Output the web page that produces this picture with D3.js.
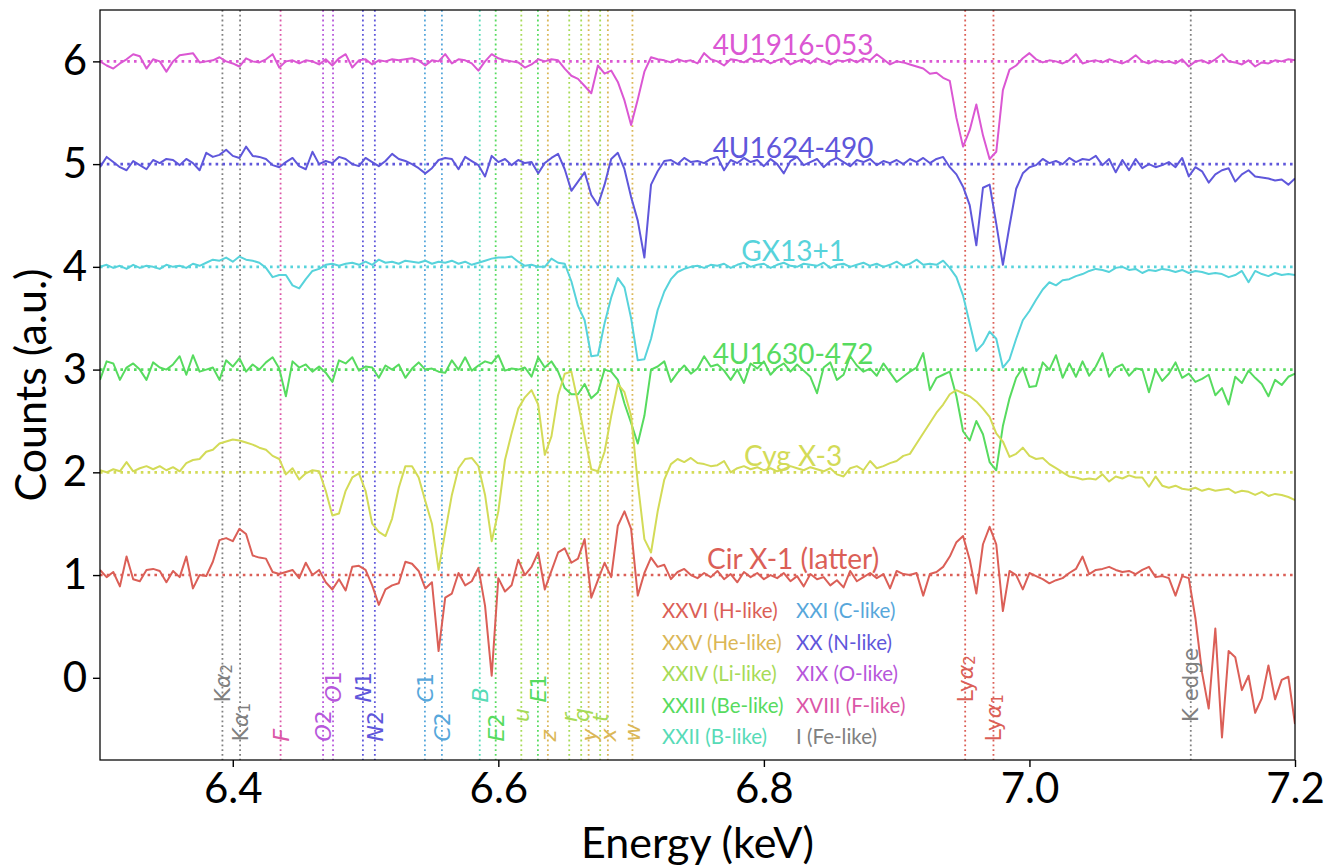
<!DOCTYPE html>
<html><head><meta charset="utf-8">
<script src="https://cdn.jsdelivr.net/npm/d3@7"></script>
<style>body{margin:0;background:#fff}</style>
</head><body>
<svg id="c" width="1333" height="868"></svg>
<script>
// ---------------- DATA ----------------
// energy grid (keV): 6.300 .. 7.200, 5 eV bins
const energyStart = 6.300, energyStep = 0.005, nBins = 181;
const energies = d3.range(nBins).map(i => +(energyStart + i * energyStep).toFixed(3));

const seriesNames = ["4U1916-053", "4U1624-490", "GX13+1", "4U1630-472", "Cyg X-3", "Cir X-1 (latter)"];
const seriesOffsets = [6, 5, 4, 3, 2, 1];

const counts4U1916 = [
6.00,5.96,5.93,5.98,6.02,6.07,6.05,5.93,6.02,6.00,
5.90,6.00,6.06,6.07,6.08,5.99,6.00,6.01,6.04,6.00,
5.98,5.95,6.03,6.00,5.99,6.02,6.07,5.94,6.00,6.01,
5.98,6.01,6.00,5.97,6.02,5.96,6.03,6.07,5.94,6.01,
6.02,5.97,6.01,6.00,6.02,6.01,6.02,6.03,6.01,5.96,
6.01,6.00,6.07,5.98,6.02,6.01,5.98,5.91,6.00,6.07,
6.03,6.01,6.00,5.99,5.94,5.97,6.02,6.00,6.02,6.01,
5.93,5.86,5.83,5.76,5.69,5.96,5.88,5.91,5.80,5.62,
5.38,5.63,5.90,6.04,6.02,6.01,5.99,6.02,6.00,6.01,
5.98,6.08,6.02,6.00,5.96,6.02,6.01,5.99,6.03,6.00,
6.02,5.98,6.01,6.03,5.97,6.00,6.02,5.98,6.03,6.00,
5.97,6.01,6.00,6.02,5.99,6.03,6.01,6.07,6.02,5.97,
6.00,5.99,5.97,5.95,5.93,5.88,5.89,5.84,5.81,5.45,
5.17,5.33,5.58,5.28,5.05,5.12,5.72,5.92,5.96,6.03,
6.08,6.02,5.99,6.01,6.00,5.98,6.01,6.07,5.98,6.00,
6.01,5.99,6.02,6.00,5.98,6.01,6.06,6.00,5.98,6.01,
5.99,6.00,5.98,6.02,5.95,6.00,6.01,5.98,6.02,6.07,
6.00,5.99,5.97,6.01,5.95,5.99,5.98,6.01,6.00,6.02,
6.01];

const counts4U1624 = [
4.97,5.07,5.02,4.97,4.94,5.03,4.99,4.95,5.04,5.01,
5.05,5.04,4.99,5.05,5.01,4.94,5.11,5.07,5.09,5.14,
5.08,5.06,5.17,5.08,5.07,5.05,4.99,4.97,5.02,5.06,
4.98,4.95,5.12,5.00,5.03,5.01,5.07,5.05,5.00,4.98,
5.06,5.02,4.98,5.03,5.10,5.05,5.03,5.00,4.96,4.91,
4.96,5.04,5.06,5.05,4.95,5.07,5.03,4.99,4.88,5.08,
5.02,5.05,4.99,5.04,5.01,5.02,4.91,5.01,5.06,5.10,
4.95,4.74,4.83,4.92,4.70,4.60,4.80,5.05,5.11,4.95,
4.68,4.45,4.09,4.80,4.93,5.03,5.04,5.00,5.06,5.02,
5.03,5.01,5.05,5.07,4.94,5.04,5.01,5.06,5.02,5.04,
4.98,5.05,5.00,4.91,5.03,5.07,4.99,5.02,5.05,4.97,
5.03,5.06,5.02,4.98,5.04,5.02,5.05,4.99,5.03,5.01,
5.04,5.00,5.05,5.02,5.06,5.01,5.05,5.07,4.97,4.90,
4.78,4.60,4.21,4.77,4.80,4.42,4.02,4.40,4.76,4.91,
4.97,4.99,5.05,5.01,5.03,5.00,5.06,5.02,5.05,5.04,
5.08,4.99,5.05,4.92,5.04,4.94,5.05,4.96,5.00,4.97,
4.99,5.02,4.97,5.06,4.88,4.97,4.93,4.82,4.90,4.94,
4.96,4.83,4.90,4.94,4.88,4.87,4.86,4.84,4.85,4.80,
4.86];

const countsGX13 = [
4.00,4.02,3.99,4.01,3.98,4.02,3.99,4.01,4.00,3.98,
4.02,4.00,4.01,3.99,4.03,4.01,4.04,4.07,4.06,4.09,
4.05,4.10,4.07,4.06,4.04,3.99,3.90,3.92,3.92,3.82,
3.79,3.88,3.96,3.98,4.02,4.03,4.01,4.03,4.04,4.02,
4.05,4.02,4.07,4.04,4.05,4.03,4.06,4.05,4.04,4.06,
4.03,4.05,4.04,4.06,4.03,4.05,4.02,4.04,4.06,4.08,
4.09,4.09,4.10,4.05,4.01,4.02,4.00,4.00,4.08,4.04,
4.03,3.86,3.62,3.48,3.13,3.14,3.45,3.70,3.89,3.80,
3.50,3.09,3.10,3.30,3.58,3.76,3.88,3.95,3.98,4.00,
4.01,3.99,4.02,4.01,4.03,3.99,4.02,4.04,4.00,4.02,
4.03,3.99,4.02,4.04,4.01,4.00,4.03,4.02,4.01,4.04,
3.99,4.02,4.03,4.00,4.02,4.04,4.01,4.03,4.00,4.02,
4.05,4.01,4.03,4.07,4.02,4.03,4.02,4.06,3.99,3.90,
3.72,3.45,3.18,3.25,3.37,3.30,3.02,3.10,3.30,3.48,
3.57,3.68,3.78,3.85,3.82,3.87,3.88,3.91,3.93,3.96,
3.98,3.97,3.95,3.99,4.00,3.97,3.98,3.94,3.97,3.96,
3.98,3.97,3.95,3.97,3.94,3.96,3.95,3.93,3.94,3.93,
3.90,3.92,3.96,3.85,3.96,3.93,3.91,3.94,3.92,3.93,
3.92];

const counts4U1630 = [
2.90,3.08,3.06,2.90,3.02,3.06,3.00,2.90,3.07,3.02,
3.00,3.05,3.13,2.95,3.14,2.98,3.00,3.02,2.90,3.09,
3.03,3.11,2.98,3.05,3.00,3.07,3.12,3.01,2.74,3.08,
3.02,3.05,2.98,3.03,2.97,2.88,3.09,3.06,3.12,2.99,
3.03,3.02,2.92,3.04,3.00,3.05,2.92,3.01,3.07,3.00,
3.01,2.98,2.97,3.09,3.00,3.12,2.99,3.04,3.08,3.06,
3.14,2.99,3.01,3.00,3.02,2.93,3.12,3.02,3.08,2.98,
2.82,2.76,2.76,2.86,2.72,2.78,3.00,2.98,2.90,2.67,
2.48,2.28,2.55,3.00,3.03,3.08,2.88,2.97,3.04,2.96,
3.01,3.13,3.03,3.05,2.99,2.90,3.00,2.87,3.06,3.01,
3.08,2.95,3.02,3.06,2.98,3.05,2.99,2.93,2.77,3.02,
3.07,2.90,2.95,3.13,3.04,2.98,3.01,2.94,3.06,2.97,
2.88,2.93,2.98,3.02,3.16,2.80,2.92,2.95,2.98,2.74,
2.40,2.31,2.50,2.37,2.10,2.02,2.45,2.72,2.92,3.02,
2.83,2.84,3.07,3.00,3.14,2.92,3.06,2.93,3.08,2.94,
3.03,3.16,2.93,3.02,3.05,2.94,3.01,3.00,2.78,3.00,
2.89,2.96,3.07,2.92,2.96,2.88,2.91,2.95,2.75,2.82,
2.66,2.93,2.87,2.99,2.92,2.86,2.74,2.90,2.85,2.93,
2.96];

const countsCygX3 = [
2.02,2.00,2.03,2.01,2.10,2.01,2.04,2.06,2.03,2.06,
2.02,2.05,2.01,2.09,2.12,2.13,2.20,2.22,2.28,2.30,
2.32,2.31,2.29,2.27,2.24,2.22,2.16,2.13,1.98,2.04,
1.93,1.99,2.02,2.01,1.82,1.58,1.60,1.82,1.95,1.99,
1.82,1.50,1.42,1.38,1.55,1.85,2.06,2.06,1.95,1.72,
1.50,1.05,1.42,1.78,2.04,2.13,2.14,2.06,1.78,1.33,
1.62,2.12,2.38,2.62,2.73,2.80,2.66,2.17,2.35,2.75,
2.96,2.98,2.68,2.35,2.03,2.01,2.20,2.55,2.86,2.78,
2.55,1.90,1.35,1.22,1.62,1.93,2.08,2.13,2.10,2.14,
2.09,2.08,2.06,2.07,2.11,2.00,2.04,2.06,2.03,2.05,
2.02,2.04,2.01,2.03,2.06,2.04,2.02,2.05,2.03,2.01,
2.04,1.98,1.96,2.04,2.06,2.02,2.11,2.04,2.06,2.09,
2.11,2.16,2.18,2.28,2.38,2.48,2.58,2.66,2.76,2.80,
2.77,2.74,2.69,2.62,2.54,2.38,2.30,2.15,2.18,2.24,
2.16,2.13,2.14,2.08,2.04,2.00,1.96,1.95,1.93,1.94,
1.93,1.98,1.91,1.96,1.94,1.97,1.95,1.95,1.86,1.96,
1.87,1.85,1.87,1.84,1.83,1.85,1.82,1.84,1.82,1.83,
1.84,1.80,1.82,1.81,1.78,1.81,1.77,1.79,1.78,1.76,
1.73];

const countsCirX1 = [
1.05,0.98,1.03,0.89,1.18,0.96,0.94,1.05,1.06,1.04,
0.93,1.04,0.98,1.18,0.87,1.00,0.99,1.13,1.34,1.36,
1.33,1.45,1.40,1.19,1.17,1.16,1.03,1.01,1.03,1.05,
0.97,1.12,1.00,1.05,0.93,0.86,0.96,0.85,1.08,1.09,
1.05,0.90,0.71,0.86,0.90,0.92,1.13,1.11,1.04,0.87,
0.93,0.26,0.78,0.82,1.02,0.90,0.94,1.07,0.70,0.02,
0.97,0.84,0.90,1.15,1.00,1.08,1.22,0.86,1.04,1.22,
1.26,1.12,1.16,1.35,0.78,0.95,1.12,0.98,1.48,1.62,
1.45,0.80,1.02,1.17,1.08,1.10,0.96,1.03,1.06,1.00,
0.97,1.02,0.98,1.04,0.96,1.01,0.93,1.03,0.98,1.02,
0.96,1.00,0.97,1.02,0.94,0.99,0.89,1.01,0.96,0.98,
0.90,0.95,0.88,1.04,0.94,0.98,1.02,0.97,1.01,0.87,
1.04,1.01,1.00,1.02,0.80,1.01,1.03,1.08,1.18,1.32,
1.38,1.15,0.82,1.30,1.47,1.30,0.65,1.04,1.00,0.86,
1.02,0.99,0.96,0.92,0.95,0.97,1.02,1.06,1.18,1.01,
1.05,1.06,1.08,1.05,1.03,1.04,1.01,1.05,1.08,0.98,
0.99,0.97,0.80,0.99,0.97,0.58,0.05,-0.30,0.48,-0.58,
0.26,0.20,-0.12,0.02,-0.34,-0.20,0.12,-0.21,-0.02,0.01,
-0.45];

const seriesValues = [counts4U1916, counts4U1624, countsGX13, counts4U1630, countsCygX3, countsCirX1];

// Fe line identifications
const lineEnergies = [6.3922, 6.4055, 6.4360, 6.4680, 6.4755, 6.4980, 6.5070, 6.5447, 6.5575, 6.5860, 6.5980,
  6.6173, 6.6298, 6.6373, 6.6534, 6.6624, 6.6680, 6.6767, 6.6825, 6.7010, 6.9516, 6.9729, 7.1215];
const lineLabels = ["Kα2","Kα1","F","O2","O1","N1","N2","C1","C2","B","E2",
  "u","E1","z","r","q","y","t","x","w","Lyα2","Lyα1","K edge"];
const lineIons = ["I","I","XVIII","XIX","XIX","XX","XX","XXI","XXI","XXII","XXIII",
  "XXIV","XXIII","XXV","XXIV","XXIV","XXV","XXIV","XXV","XXV","XXVI","XXVI","I"];
const lineTier = [0,2,2,2,0,0,2,0,2,0,2, 1,0,2,1,1,2,1,2,2, 0,2,1];

const ionNames = ["XXVI","XXV","XXIV","XXIII","XXII","XXI","XX","XIX","XVIII","I"];
const ionLegend = ["XXVI (H-like)","XXV (He-like)","XXIV (Li-like)","XXIII (Be-like)","XXII (B-like)",
  "XXI (C-like)","XX (N-like)","XIX (O-like)","XVIII (F-like)","I (Fe-like)"];

const xTicks = [6.4, 6.6, 6.8, 7.0, 7.2];
const yTicks = [0, 1, 2, 3, 4, 5, 6];

// ---------------- STYLE ----------------
const seriesColors = ["#db57d3", "#5f57db", "#57d3db", "#57db5f", "#d3db57", "#db5f57"];
const ionColors = ["#db5f57","#dbb757","#a7db57","#57db5f","#57dbb7","#57a7db","#5f57db","#b757db","#db57a7","#808080"];
const ionColor = {}; ionNames.forEach((n, i) => ionColor[n] = ionColors[i]);
const mainFont = "Lato, 'Noto Sans', sans-serif";
const mathFont = "'DejaVu Sans', sans-serif";

// ---------------- DRAW ----------------
const M = {l: 100, r: 1295, t: 10, b: 760};
const x = d3.scaleLinear().domain([6.3, 7.2]).range([M.l, M.r]);
const y = d3.scaleLinear().domain([-0.8, 6.5]).range([M.b, M.t]);
const svg = d3.select("#c");

svg.append("defs").append("clipPath").attr("id", "clip")
  .append("rect").attr("x", M.l).attr("y", M.t).attr("width", M.r - M.l).attr("height", M.b - M.t);
const plot = svg.append("g").attr("clip-path", "url(#clip)");

// vertical line markers
plot.selectAll("line.vl").data(lineEnergies).join("line").attr("class", "vl")
  .attr("x1", d => x(d)).attr("x2", d => x(d)).attr("y1", M.t).attr("y2", M.b)
  .attr("stroke", (d, i) => ionColor[lineIons[i]]).attr("stroke-width", 1.8)
  .attr("stroke-dasharray", "1.8,3");

// spectra + baselines
const lineGen = d3.line().x((d, i) => x(energies[i])).y(d => y(d));
seriesValues.forEach((vals, k) => {
  plot.append("path").datum(vals).attr("d", lineGen)
    .attr("fill", "none").attr("stroke", seriesColors[k]).attr("stroke-width", 2)
    .attr("stroke-linejoin", "round");
  plot.append("line").attr("x1", M.l).attr("x2", M.r)
    .attr("y1", y(seriesOffsets[k])).attr("y2", y(seriesOffsets[k]))
    .attr("stroke", seriesColors[k]).attr("stroke-width", 2.6).attr("stroke-dasharray", "2.6,4.2");
});

// series names
seriesNames.forEach((n, k) => {
  svg.append("text").attr("x", x(6.822)).attr("y", y(seriesOffsets[k]) - 6)
    .attr("text-anchor", "middle").attr("font-family", mainFont).attr("font-size", 28)
    .attr("fill", seriesColors[k]).text(n);
});

// line labels (rotated)
const tierY = [-0.24, -0.43, -0.62];
lineLabels.forEach((lab, i) => {
  const t = svg.append("text")
    .attr("transform", `translate(${x(lineEnergies[i])},${y(tierY[lineTier[i]])}) rotate(-90)`)
    .attr("font-family", mathFont).attr("font-size", 22).attr("dominant-baseline", "central")
    .attr("fill", ionColor[lineIons[i]]);
  if (lab === "K edge") {
    t.attr("textLength", 74).attr("lengthAdjust", "spacingAndGlyphs").text(lab);
    return;
  }
  const m = lab.match(/^(K|Ly)α(\d)$/);
  if (m) {
    t.append("tspan").text(m[1]);
    t.append("tspan").attr("font-style", "italic").text("α");
    t.append("tspan").attr("font-size", 15).attr("dy", 5).text(m[2]);
    return;
  }
  for (const ch of lab) {
    t.append("tspan").attr("font-style", /\d/.test(ch) ? "normal" : "italic").text(ch);
  }
});

// legend (text only)
ionLegend.forEach((txt, i) => {
  const col = Math.floor(i / 5), row = i % 5;
  svg.append("text").attr("x", col ? 796 : 662).attr("y", 618 + row * 31.6)
    .attr("font-family", mainFont).attr("font-size", 20.5).attr("fill", ionColors[i]).text(txt);
});

// frame
svg.append("rect").attr("x", M.l).attr("y", M.t).attr("width", M.r - M.l).attr("height", M.b - M.t)
  .attr("fill", "none").attr("stroke", "#000").attr("stroke-width", 1.25);

// axes
const xAxis = svg.append("g").attr("transform", `translate(0,${M.b})`)
  .call(d3.axisBottom(x).tickValues(xTicks).tickFormat(d3.format(".1f")).tickSize(7).tickPadding(6).tickSizeOuter(0));
const yAxis = svg.append("g").attr("transform", `translate(${M.l},0)`)
  .call(d3.axisLeft(y).tickValues(yTicks).tickFormat(d3.format("d")).tickSize(7).tickPadding(6).tickSizeOuter(0));
[xAxis, yAxis].forEach(a => {
  a.select(".domain").remove();
  a.selectAll(".tick line").attr("stroke", "#000").attr("stroke-width", 1.4);
  a.selectAll(".tick text").attr("font-family", mainFont).attr("font-size", 42).attr("fill", "#000");
});

svg.append("text").attr("x", (M.l + M.r) / 2).attr("y", 858).attr("text-anchor", "middle")
  .attr("font-family", mainFont).attr("font-size", 43).text("Energy (keV)");
svg.append("text").attr("transform", `translate(46,${(M.t + M.b) / 2}) rotate(-90)`).attr("text-anchor", "middle")
  .attr("font-family", mainFont).attr("font-size", 43).text("Counts (a.u.)");
</script>
</body></html>
